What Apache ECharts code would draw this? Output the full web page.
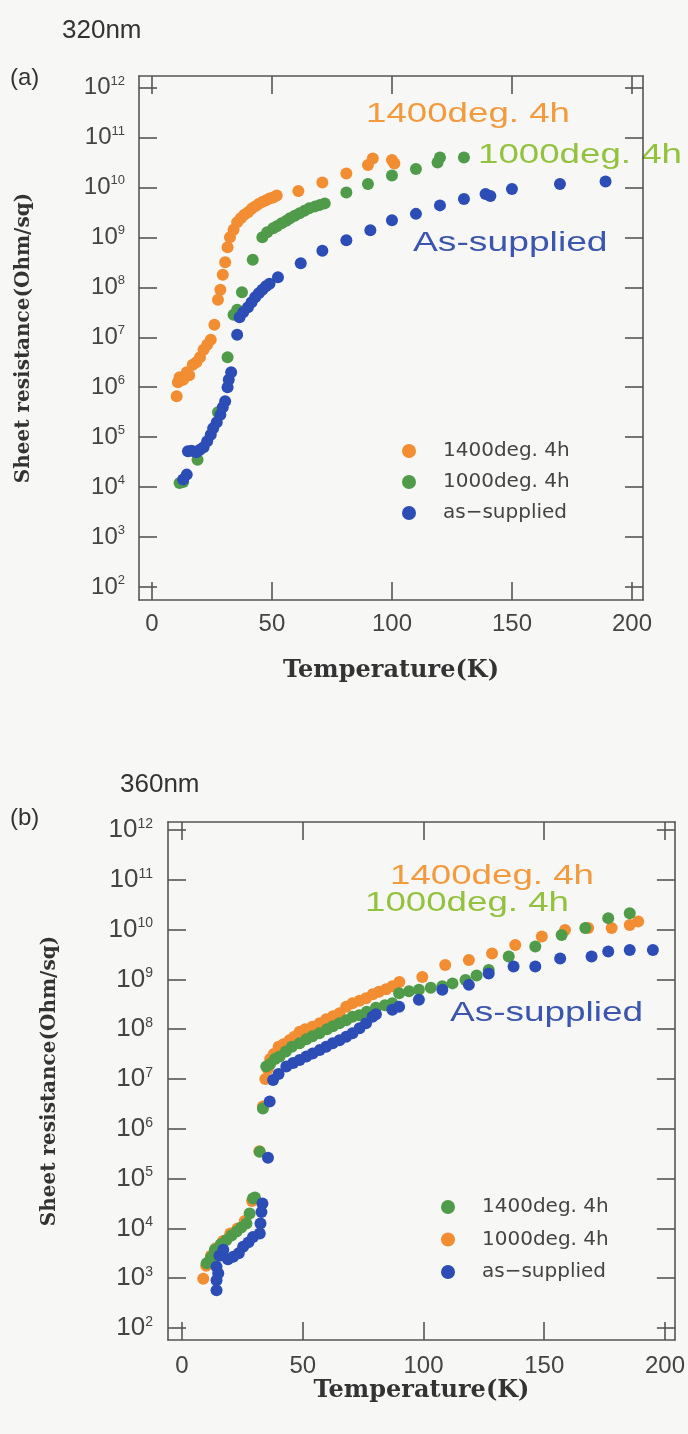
<!DOCTYPE html>
<html><head><meta charset="utf-8">
<script src="https://cdn.jsdelivr.net/npm/echarts@6/dist/echarts.min.js"></script>
<style>html,body{margin:0;padding:0;background:#f7f7f5}#c{width:688px;height:1434px}</style>
</head><body><div id="c"></div>
<script>
// ---------- data ----------
const xTicks = [0, 50, 100, 150, 200];
const yTickExponents = [2, 3, 4, 5, 6, 7, 8, 9, 10, 11, 12];
const legendLabels = ['1400deg. 4h', '1000deg. 4h', 'as\u2212supplied'];

// (a) 320nm : [Temperature (K), log10(sheet resistance / Ohm/sq)]
const a1400 = [[10.3,5.82],[10.8,6.1],[11.5,6.2],[13,6.15],[14.5,6.3],[15.5,6.24],[17,6.45],[18.5,6.5],[20,6.6],[21.5,6.75],[23,6.85],[24.5,6.95],[26,7.25],[27.5,7.75],[28.5,7.95],[29.5,8.25],[30.5,8.5],[31.5,8.8],[32.5,9.0],[34,9.15],[35.5,9.3],[37,9.38],[38.5,9.45],[40,9.5],[41.5,9.57],[43,9.62],[44.5,9.67],[46,9.71],[47.5,9.74],[49,9.78],[50.5,9.8],[52,9.84],[61,9.93],[71,10.1],[81,10.28],[90,10.45],[92,10.58],[100,10.55],[101,10.48]];
const a1000 = [[11.5,4.08],[13,4.1],[19,4.55],[27.5,5.5],[31.5,6.6],[34,7.45],[35.5,7.55],[37.5,7.9],[42,8.55],[46,9.0],[48,9.1],[50.5,9.18],[52,9.22],[54,9.28],[56,9.33],[57.5,9.38],[59.5,9.43],[61.5,9.48],[63.5,9.53],[65.5,9.58],[68,9.62],[70,9.65],[72,9.68],[81,9.9],[90,10.07],[100,10.24],[110,10.37],[119,10.5],[120,10.6],[130,10.6]];
const aAs = [[13,4.15],[14.5,4.25],[15,4.72],[16.5,4.73],[18.5,4.7],[20,4.75],[21.5,4.8],[23,4.92],[24.5,5.05],[25.5,5.18],[27,5.3],[28.5,5.45],[29.5,5.6],[30.5,5.72],[31.5,6.0],[32,6.15],[33,6.3],[35.5,7.05],[36.5,7.4],[38,7.5],[40,7.6],[41.5,7.7],[43,7.8],[44.5,7.88],[46,7.95],[47.5,8.02],[49,8.07],[52.5,8.2],[62,8.48],[71,8.73],[81,8.94],[91,9.14],[100,9.34],[110,9.47],[120,9.64],[130,9.77],[139,9.87],[141,9.83],[150,9.97],[170,10.07],[189,10.12]];

// (b) 360nm
const b1000 = [[8.8,2.99],[10,3.25],[12,3.45],[14,3.6],[17,3.75],[20,3.9],[23,4.0],[26,4.15],[29,4.55],[30,4.6],[32,5.55],[33.5,6.45],[34.5,7.0],[35.5,7.2],[36.5,7.4],[38,7.5],[40,7.65],[42,7.7],[44.5,7.78],[46.5,7.85],[48.7,7.95],[51,8.0],[54,8.05],[57,8.12],[59.7,8.2],[62.5,8.26],[65.2,8.32],[68,8.45],[70.6,8.52],[73.5,8.57],[76.2,8.62],[79,8.7],[81.6,8.75],[84.5,8.8],[87.1,8.86],[90,8.95],[99.5,9.05],[109,9.29],[118.8,9.39],[128.4,9.52],[138,9.69],[149,9.86],[158.6,9.99],[168.2,10.03],[177.9,10.03],[185.4,10.09],[188.9,10.16]];
const b1400 = [[10.2,3.3],[12,3.42],[13.6,3.57],[16,3.68],[18.4,3.77],[20.5,3.86],[22.6,3.94],[24.5,4.02],[26.7,4.1],[28,4.3],[29.4,4.6],[30.2,4.62],[32.2,5.54],[33.5,6.41],[34.9,7.25],[36.5,7.3],[38.5,7.4],[40.4,7.45],[43,7.55],[45.5,7.65],[48.7,7.72],[51.5,7.8],[54,7.86],[56.9,7.92],[60,8.0],[62.5,8.06],[65.2,8.12],[68,8.18],[70.6,8.25],[73.4,8.28],[76.5,8.35],[80.3,8.43],[84,8.48],[87.1,8.52],[89.9,8.72],[94,8.76],[98.1,8.79],[103,8.83],[107.8,8.86],[112,8.92],[117.4,8.99],[122,9.08],[127,9.19],[135.3,9.46],[146.3,9.66],[157.2,9.89],[167,10.03],[176.5,10.23],[185.4,10.33]];
const bAs = [[14.3,2.76],[14.3,2.96],[15,3.1],[14.3,3.23],[15.5,3.45],[17.1,3.57],[19,3.38],[21.2,3.43],[23.5,3.5],[25.3,3.63],[27.5,3.72],[29.4,3.83],[32.2,3.9],[32.5,4.1],[32.9,4.33],[33.3,4.5],[35.6,5.42],[36.3,6.55],[37.7,6.98],[40,7.1],[43.2,7.25],[46,7.32],[48.7,7.38],[51.5,7.45],[54.1,7.51],[57,7.58],[59.7,7.65],[62.4,7.72],[65.2,7.78],[68,7.85],[70.6,7.92],[73.5,8.02],[76.2,8.12],[78.9,8.25],[80.3,8.3],[87.1,8.39],[89.9,8.45],[98.1,8.59],[107.8,8.79],[118.8,8.89],[127,9.12],[137.3,9.26],[146.3,9.26],[156.6,9.42],[169.6,9.46],[176.5,9.56],[185.4,9.59],[195,9.59]];

// ---------- style ----------
const C_OR = '#f28d32', C_GR = '#4f9b4a', C_BL = '#2c4db6';
const AX = '#555555';
const SANS = '"Liberation Sans", Arial, sans-serif';
const SERIF = '"DejaVu Serif", "Liberation Serif", serif';
const yTicks = yTickExponents.map(e => Math.pow(10, e));
const toXY = arr => arr.map(([t, e]) => [t, Math.pow(10, e)]);

function xAxis(grid, pos, min, max, opts) {
  return {
    type: 'value', gridIndex: grid, position: pos, min, max,
    axisLine: { show: true, onZero: false, lineStyle: { color: AX, width: 1.6 } },
    axisTick: { show: true, inside: true, length: 18, customValues: xTicks, lineStyle: { color: AX, width: 1.6 } },
    axisLabel: { show: !!opts.label, customValues: xTicks, margin: opts.margin || 12, fontSize: opts.fs || 24, color: '#444', fontFamily: SANS },
    splitLine: { show: false },
    name: opts.name || '', nameLocation: 'middle', nameGap: opts.nameGap || 0,
    nameTextStyle: { fontFamily: SERIF, fontWeight: 'bold', fontSize: 24, color: '#333' }
  };
}
function yAxis(grid, pos, minE, maxE, opts) {
  return {
    type: 'log', logBase: 10, gridIndex: grid, position: pos,
    min: Math.pow(10, minE), max: Math.pow(10, maxE),
    axisLine: { show: true, onZero: false, lineStyle: { color: AX, width: 1.6 } },
    axisTick: { show: true, inside: true, length: 18, customValues: yTicks, lineStyle: { color: AX, width: 1.6 } },
    axisLabel: {
      show: !!opts.label, customValues: yTicks, margin: opts.margin || 14,
      formatter: v => '{b|10}{s|' + Math.round(Math.log10(v)) + '}',
      rich: {
        b: { fontSize: opts.fs || 24, fontFamily: SANS, color: '#444', lineHeight: 26 },
        s: { fontSize: opts.ss || 13, fontFamily: SANS, color: '#444', verticalAlign: 'top', lineHeight: 14 }
      }
    },
    splitLine: { show: false },
    name: opts.name || '', nameLocation: 'middle', nameGap: opts.nameGap || 0, nameRotate: 90,
    nameTextStyle: { fontFamily: SERIF, fontWeight: 'bold', fontSize: 20, color: '#333' }
  };
}
function sc(name, data, color, xi, yi) {
  return { name, type: 'scatter', xAxisIndex: xi, yAxisIndex: yi, data: toXY(data),
    symbol: 'circle', symbolSize: 12, itemStyle: { color, opacity: 1 }, silent: true, animation: false };
}
const nameMap = { a1400: legendLabels[0], a1000: legendLabels[1], aAs: legendLabels[2],
                  b1400: legendLabels[0], b1000: legendLabels[1], bAs: legendLabels[2] };
function legend(data, left, top, gap) {
  return { data, orient: 'vertical', left, top, itemWidth: 14, itemHeight: 14, itemGap: gap,
    icon: 'circle', selectedMode: false, formatter: n => nameMap[n],
    textStyle: { fontFamily: '"DejaVu Sans", sans-serif', fontSize: 20, color: '#444', lineHeight: 14, padding: [0, 0, 0, 22] } };
}
function txt(text, x, y, size, color, sx) {
  return { type: 'text', x, y, scaleX: sx || 1, silent: true,
    style: { text, font: size + 'px ' + SANS, fill: color, align: 'left', verticalAlign: 'middle' } };
}

const chart = echarts.init(document.getElementById('c'), null, { renderer: 'canvas' });
chart.setOption({
  backgroundColor: '#f7f7f5',
  animation: false,
  grid: [
    { left: 139, top: 76, width: 504, height: 524 },
    { left: 168, top: 822, width: 509, height: 518 }
  ],
  xAxis: [
    xAxis(0, 'bottom', -5.4, 204.6, { label: true, name: 'Temperature(K)', nameGap: 59, margin: 12 }),
    xAxis(0, 'top', -5.4, 204.6, {}),
    xAxis(1, 'bottom', -5.8, 204.1, { label: true, name: 'Temperature(K)', nameGap: 38, margin: 14 }),
    xAxis(1, 'top', -5.8, 204.1, {})
  ],
  yAxis: [
    yAxis(0, 'left', 1.74, 12.23, { label: true, name: 'Sheet resistance(Ohm/sq)', nameGap: 105, margin: 14 }),
    yAxis(0, 'right', 1.74, 12.23, {}),
    yAxis(1, 'left', 1.76, 12.16, { label: true, name: 'Sheet resistance(Ohm/sq)', nameGap: 108, margin: 15, fs: 26, ss: 14 }),
    yAxis(1, 'right', 1.76, 12.16, {})
  ],
  legend: [
    legend(['a1400', 'a1000', 'aAs'], 397, 436, 11),
    legend(['b1400', 'b1000', 'bAs'], 436, 1192, 12.5)
  ],
  series: [
    sc('a1400', a1400, C_OR, 0, 0),
    sc('a1000', a1000, C_GR, 0, 0),
    sc('aAs', aAs, C_BL, 0, 0),
    sc('b1000', b1000, C_OR, 2, 2),
    sc('b1400', b1400, C_GR, 2, 2),
    sc('bAs', bAs, C_BL, 2, 2)
  ],
  graphic: [
    txt('320nm', 62, 31, 26, '#333'),
    txt('(a)', 10, 78, 24, '#333'),
    txt('360nm', 120, 785, 26, '#333'),
    txt('(b)', 10, 818, 24, '#333'),
    txt('1400deg. 4h', 366, 114, 28, '#f29a3e', 1.31),
    txt('1000deg. 4h', 478, 155, 28, '#93c23f', 1.31),
    txt('As-supplied', 413, 243, 28, '#3c56ae', 1.33),
    txt('1400deg. 4h', 390, 876, 28, '#f29a3e', 1.31),
    txt('1000deg. 4h', 365, 903, 28, '#93c23f', 1.31),
    txt('As-supplied', 450, 1013, 28, '#3c56ae', 1.32)
  ]
});
</script></body></html>
